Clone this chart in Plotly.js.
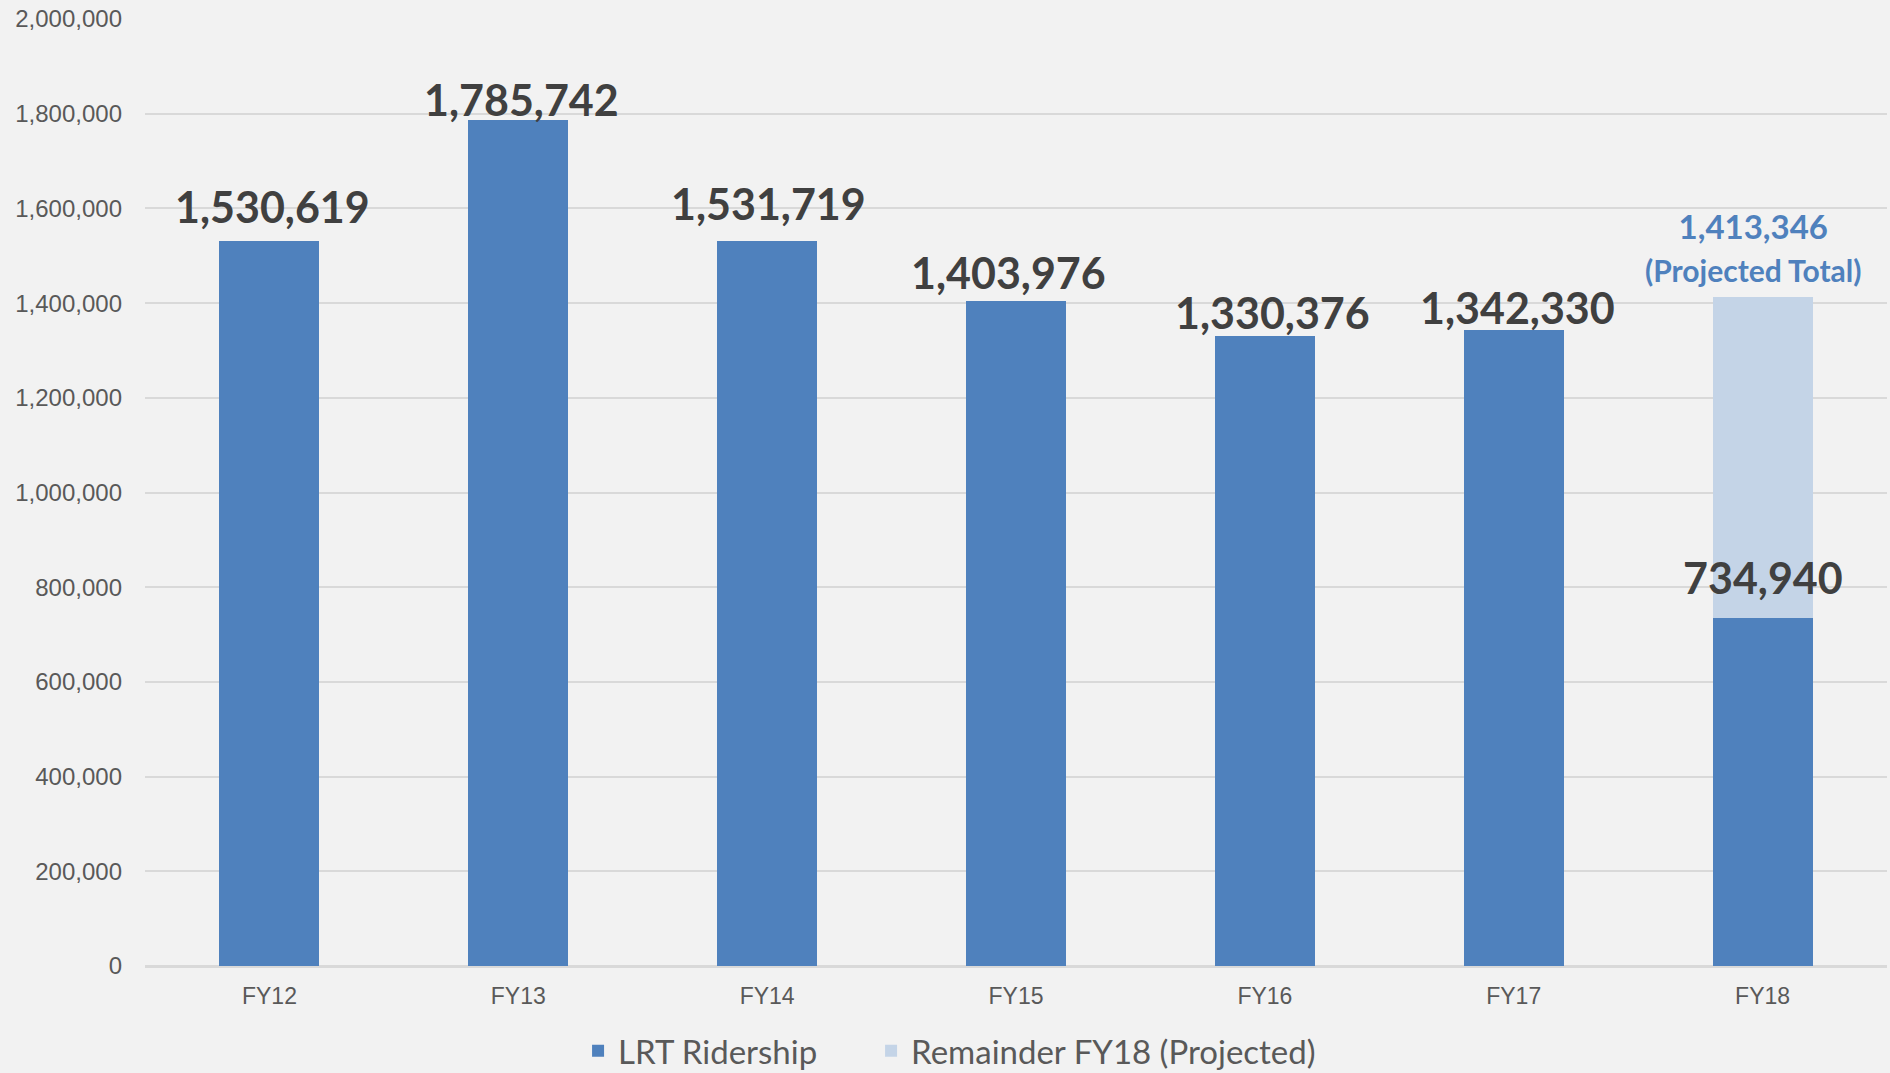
<!DOCTYPE html>
<html>
<head>
<meta charset="utf-8">
<script src="https://cdn.plot.ly/plotly-3.0.1.min.js"></script>
<style>
  html, body { margin: 0; padding: 0; background: #f2f2f2; }
  #chart { width: 1890px; height: 1073px; }
</style>
</head>
<body>
<div id="chart"></div>
<script>
// ---- data ----
const categories = ['FY12', 'FY13', 'FY14', 'FY15', 'FY16', 'FY17', 'FY18'];
const ridership = [1530619, 1785742, 1531719, 1403976, 1330376, 1342330, 734940];
const remainderFY18 = [null, null, null, null, null, null, 678406];
const projectedTotalFY18 = 1413346;
const yTickValues = [0, 200000, 400000, 600000, 800000, 1000000, 1200000, 1400000, 1600000, 1800000, 2000000];
const seriesNames = ['LRT Ridership', 'Remainder FY18 (Projected)'];

// ---- styling (label nudges in px, not data) ----
const labelGapPx = [20, 6, 23, 14, 9, 8, 26];
const labelXShiftPx = [3, 3, 1, -8, 8, 4, 0];
const darkBlue = '#4f81bd';
const lightBlue = '#c4d4e7';
const legendFont = { family: 'Lato', size: 33, color: '#595959' };

const fmt = v => v.toLocaleString('en-US');

const traces = [
  {
    type: 'bar',
    name: seriesNames[0],
    x: categories,
    y: ridership,
    marker: { color: darkBlue },
    hoverinfo: 'skip',
    legend: 'legend'
  },
  {
    type: 'bar',
    name: seriesNames[1],
    x: categories,
    y: remainderFY18,
    marker: { color: lightBlue },
    hoverinfo: 'skip',
    legend: 'legend2'
  }
];

const annotations = categories.map((c, i) => ({
  x: c,
  y: ridership[i],
  xref: 'x',
  yref: 'y',
  text: fmt(ridership[i]),
  showarrow: false,
  yanchor: 'bottom',
  xanchor: 'center',
  yshift: labelGapPx[i] - 13,
  xshift: labelXShiftPx[i],
  font: { family: 'Lato', size: 43, color: '#404040', weight: 'bold' }
}));

annotations.push({
  x: categories[6],
  y: projectedTotalFY18,
  xref: 'x',
  yref: 'y',
  text: '<b>' + fmt(projectedTotalFY18) + '</b><br><span style="font-size:30px"><b>(Projected Total)</b></span>',
  showarrow: false,
  yanchor: 'bottom',
  xanchor: 'center',
  yshift: 7,
  xshift: -9,
  font: { family: 'Lato', size: 33, color: darkBlue }
});

const layout = {
  width: 1890,
  height: 1073,
  paper_bgcolor: '#f2f2f2',
  plot_bgcolor: '#f2f2f2',
  margin: { l: 145, r: 3, t: 19, b: 107, pad: 0, autoexpand: false },
  barmode: 'stack',
  bargap: 0.598,
  showlegend: true,
  legend: {
    orientation: 'h',
    x: 0.2486,
    xanchor: 'left',
    y: -0.0895,
    yanchor: 'middle',
    font: legendFont,
    bgcolor: 'rgba(0,0,0,0)'
  },
  legend2: {
    orientation: 'h',
    x: 0.4168,
    xanchor: 'left',
    y: -0.0895,
    yanchor: 'middle',
    font: legendFont,
    bgcolor: 'rgba(0,0,0,0)'
  },
  xaxis: {
    type: 'category',
    showgrid: false,
    showline: false,
    ticks: '',
    zeroline: false,
    ticklabelstandoff: 14,
    tickfont: { family: 'Liberation Sans', size: 23, color: '#595959' },
    fixedrange: true
  },
  yaxis: {
    range: [0, 2000000],
    tickvals: yTickValues,
    tickformat: ',',
    showgrid: true,
    gridcolor: '#d9d9d9',
    gridwidth: 2,
    zeroline: true,
    zerolinecolor: '#d9d9d9',
    zerolinewidth: 3,
    showline: false,
    ticks: '',
    ticklabelstandoff: 22,
    tickfont: { family: 'Liberation Sans', size: 24, color: '#595959' },
    fixedrange: true
  },
  annotations: annotations,
  hovermode: false
};

Plotly.newPlot('chart', traces, layout, { displayModeBar: false, staticPlot: true });
</script>
</body>
</html>
